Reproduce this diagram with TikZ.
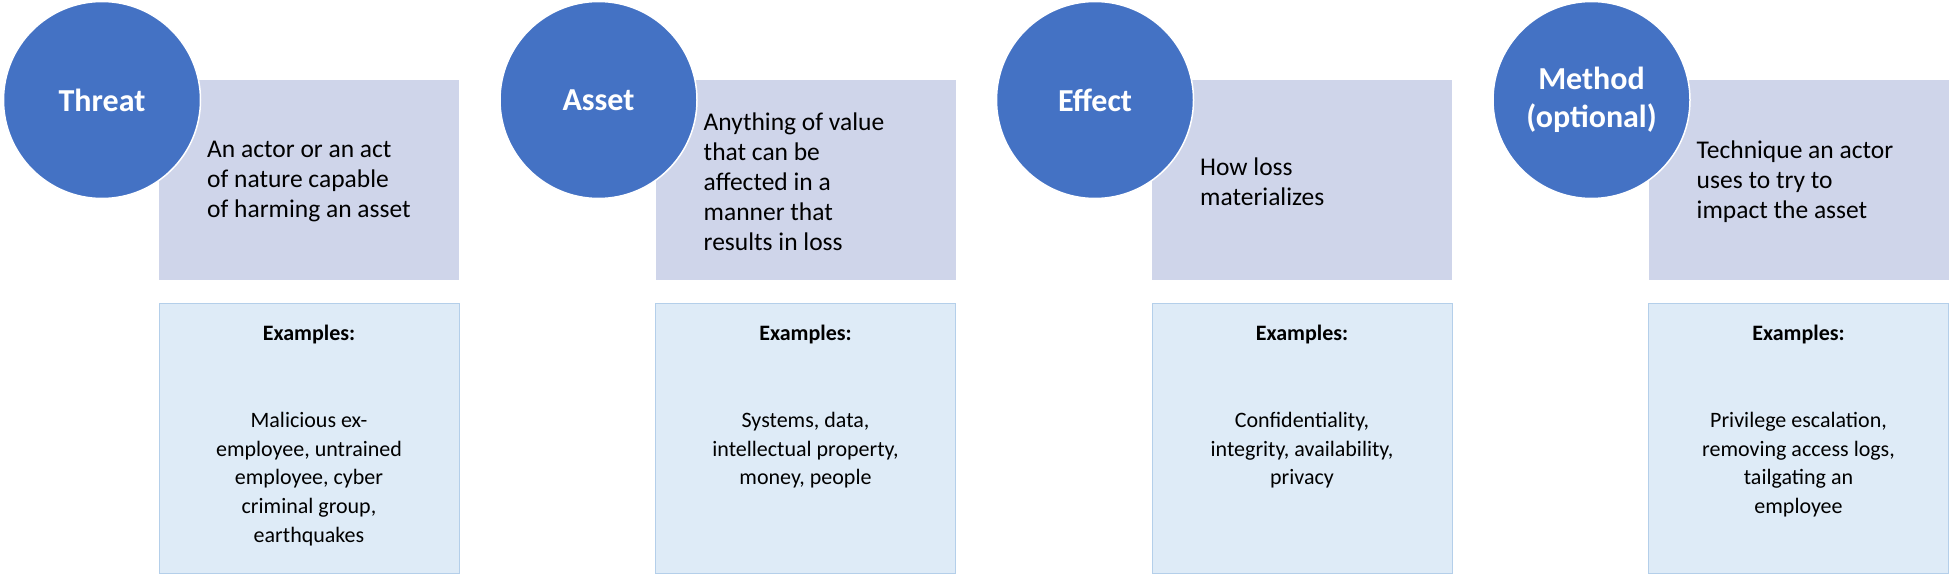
\documentclass[tikz,border=0pt]{standalone}
\usepackage{fontspec}
\setmainfont{Carlito}
\definecolor{circ}{HTML}{4472C4}
\definecolor{greyb}{HTML}{CFD5EA}
\definecolor{exfill}{HTML}{DEEBF7}
\definecolor{exline}{HTML}{B4CFEA}
\tikzset{
  circnode/.style={circle,fill=circ,draw=white,line width=1.5pt,minimum size=197pt,inner sep=0pt,text=white,align=center,font={\bfseries\fontsize{32}{38}\selectfont}},
  greybox/.style={fill=greyb,draw=none,minimum width=300pt,minimum height=200pt,inner sep=0pt},
  exbox/.style={fill=exfill,draw=exline,line width=1pt,minimum width=300pt,minimum height=269pt,inner sep=0pt},
  desc/.style={anchor=west,align=left,inner sep=0pt,font={\fontsize{25.5}{30}\selectfont}},
  extitle/.style={inner sep=0pt,font={\bfseries\fontsize{22}{28.5}\selectfont}},
  exbody/.style={anchor=north,align=center,inner sep=0pt,font={\fontsize{22}{28.7}\selectfont}}
}
\begin{document}
\begin{tikzpicture}[x=1pt,y=-1pt]
\useasboundingbox (0,0) rectangle (1954,577);
\foreach \i/\title/\desc/\body in {
 0/Threat/{An actor or an act\\of nature capable\\of harming an asset}/{Malicious ex-\\employee, untrained\\employee, cyber\\criminal group,\\earthquakes},
 1/Asset/{Anything of value\\that can be\\affected in a\\manner that\\results in loss}/{Systems, data,\\intellectual property,\\money, people},
 2/Effect/{How loss\\materializes}/{Confidentiality,\\integrity, availability,\\privacy},
 3/{Method\\(optional)}/{Technique an actor\\uses to try to\\impact the asset}/{Privilege escalation,\\removing access logs,\\tailgating an\\employee}}{
  \pgfmathsetmacro{\ox}{\i*496.5}
  \node[greybox] (g\i) at (\ox+309,180) {};
  \node[exbox] (e\i) at (\ox+309,438.5) {};
  \node[circnode] (c\i) at (\ox+102,100) {\title};
  \node[desc] (d\i) at (\ox+207,182) {\desc};
  \node[extitle] (t\i) at (\ox+309,335) {Examples:};
  \node[exbody] (b\i) at (\ox+309,412) {\body};
}
\end{tikzpicture}
\end{document}
